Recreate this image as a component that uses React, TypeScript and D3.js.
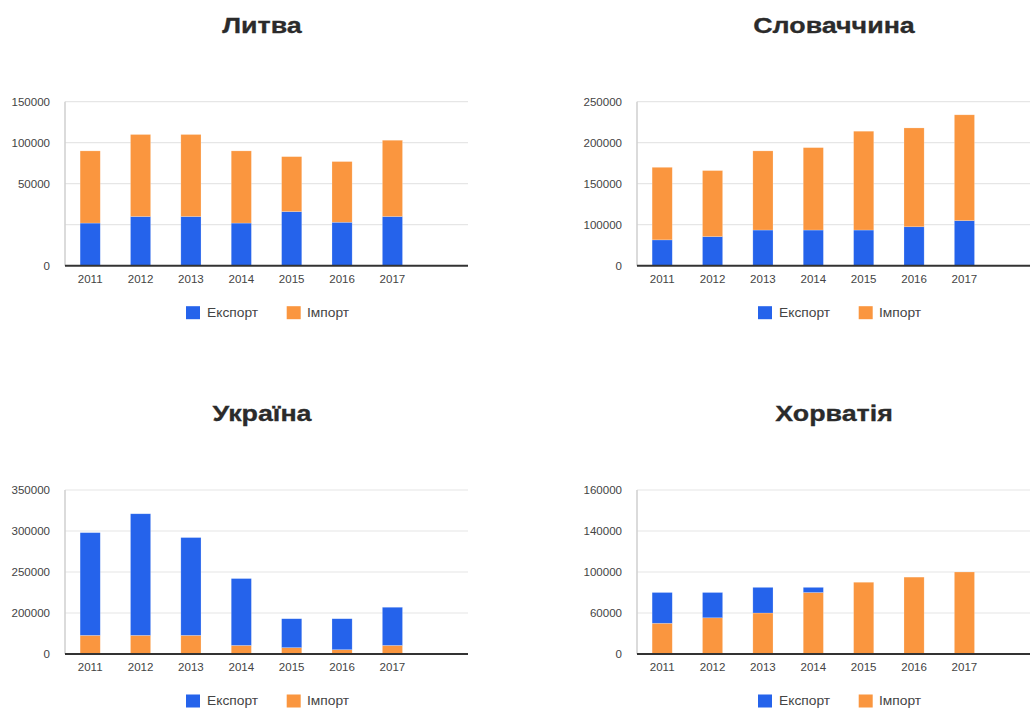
import React from "react";
import * as d3 from "d3";

const years = ["2011", "2012", "2013", "2014", "2015", "2016", "2017"];
const slots = [...years, "—"];

const lithuaniaExport = [26000, 30000, 30000, 26000, 33000, 26500, 30000];
const lithuaniaImport = [64000, 80000, 80000, 64000, 50000, 50500, 73000];
const lithuaniaTicks = [0, 25000, 50000, 100000, 150000];
const lithuaniaTickLabels = ["0", "", "50000", "100000", "150000"];

const slovakiaExport = [63000, 71000, 87000, 87000, 87000, 95000, 105000];
const slovakiaImport = [107000, 95000, 103000, 107000, 127000, 123000, 129000];
const slovakiaTicks = [0, 100000, 150000, 200000, 250000];
const slovakiaTickLabels = ["0", "100000", "150000", "200000", "250000"];

const ukraineExport = [207000, 230000, 201000, 200000, 141000, 151000, 165000];
const ukraineImport = [91000, 91000, 91000, 42000, 31000, 21000, 42000];
const ukraineTicks = [0, 200000, 250000, 300000, 350000];
const ukraineTickLabels = ["0", "200000", "250000", "300000", "350000"];

const croatiaExport = [35000, 27000, 25000, 5000, 0, 0, 0];
const croatiaImport = [45000, 53000, 60000, 80000, 90000, 95000, 100000];
const croatiaTicks = [0, 60000, 100000, 140000, 160000];
const croatiaTickLabels = ["0", "60000", "100000", "140000", "160000"];

const seriesNames = ["Експорт", "Імпорт"];
const COLORS: Record<string, string> = { export: "#2563eb", import: "#fa963f" };

const FONT = "'Liberation Sans', Arial, sans-serif";

type Panel = {
  title: string;
  exp: number[];
  imp: number[];
  ticks: number[];
  tickLabels: string[];
  order: ("export" | "import")[];
  left: number;
  top: number;
};

const panels: Panel[] = [
  { title: "Литва", exp: lithuaniaExport, imp: lithuaniaImport, ticks: lithuaniaTicks, tickLabels: lithuaniaTickLabels, order: ["export", "import"], left: 65, top: 101.7 },
  { title: "Словаччина", exp: slovakiaExport, imp: slovakiaImport, ticks: slovakiaTicks, tickLabels: slovakiaTickLabels, order: ["export", "import"], left: 637, top: 101.7 },
  { title: "Україна", exp: ukraineExport, imp: ukraineImport, ticks: ukraineTicks, tickLabels: ukraineTickLabels, order: ["import", "export"], left: 65, top: 490 },
  { title: "Хорватія", exp: croatiaExport, imp: croatiaImport, ticks: croatiaTicks, tickLabels: croatiaTickLabels, order: ["import", "export"], left: 637, top: 490 },
];

const PLOT_W = 403;
const PLOT_H = 164;

function PanelChart({ p }: { p: Panel }) {
  const x = d3.scaleBand<string>().domain(slots).range([p.left, p.left + PLOT_W]).paddingInner(0.6).paddingOuter(0.3);
  const bottom = p.top + PLOT_H;
  const gridYs = p.ticks.map((_, i) => bottom - (i * PLOT_H) / (p.ticks.length - 1));
  const y = d3.scaleLinear().domain(p.ticks).range(gridYs);
  const rows = years.map((yr, i) => ({ year: yr, export: p.exp[i], import: p.imp[i] }));
  const stacked = d3.stack<any>().keys(p.order)(rows);
  const lx = p.left + 121;
  const ly = bottom + 47;

  return (
    <g>
      <g transform={`translate(${p.left + 197},${p.top - 69}) scale(1.22,1)`}>
        <text x={0} y={0} textAnchor="middle" fontFamily={FONT} fontWeight="bold" fontSize={22} fill="#2b2b2b" stroke="#2b2b2b" strokeWidth={0.3}>
          {p.title}
        </text>
      </g>
      {p.ticks.map((t, i) => (
        <g key={"g" + i}>
          {i > 0 && <line x1={p.left} x2={p.left + PLOT_W} y1={y(t)} y2={y(t)} stroke="#e6e6e6" strokeWidth={1.2} />}
          <g transform={`translate(${p.left - 15},${y(t)}) scale(1.05,1)`}>
            <text x={0} y={0} dy="0.35em" textAnchor="end" fontFamily={FONT} fontSize={11} fill="#444">
              {p.tickLabels[i]}
            </text>
          </g>
        </g>
      ))}
      <line x1={p.left} x2={p.left} y1={p.top} y2={bottom} stroke="#cfcfcf" strokeWidth={1.5} />
      {stacked.map((s) => (
        <g key={s.key} fill={COLORS[s.key]}>
          {s.map((d, i) => {
            const h = y(d[0]) - y(d[1]);
            if (h <= 0) return null;
            return <rect key={i} x={x(years[i])!} width={x.bandwidth()} y={y(d[1])} height={h} stroke="#ffffff" strokeOpacity={0.35} strokeWidth={0.6} />;
          })}
        </g>
      ))}
      <line x1={p.left} x2={p.left + PLOT_W} y1={bottom} y2={bottom} stroke="#333" strokeWidth={2} />
      {years.map((yr) => (
        <g key={yr} transform={`translate(${x(yr)! + x.bandwidth() / 2},${bottom + 13.5}) scale(1.05,1)`}>
          <text x={0} y={0} dy="0.35em" textAnchor="middle" fontFamily={FONT} fontSize={11} fill="#444">
            {yr}
          </text>
        </g>
      ))}
      <rect x={lx} y={ly - 6.5} width={14} height={13} fill={COLORS.export} />
      <g transform={`translate(${lx + 21},${ly}) scale(1.15,1)`}>
        <text x={0} y={0} dy="0.35em" fontFamily={FONT} fontSize={12} fill="#444">{seriesNames[0]}</text>
      </g>
      <rect x={lx + 100.7} y={ly - 6.5} width={14} height={13} fill={COLORS.import} />
      <g transform={`translate(${lx + 121},${ly}) scale(1.15,1)`}>
        <text x={0} y={0} dy="0.35em" fontFamily={FONT} fontSize={12} fill="#444">{seriesNames[1]}</text>
      </g>
    </g>
  );
}

export default function App() {
  return (
    <svg width={1030} height={709} style={{ position: "absolute", left: 0, top: 0, background: "#fff" }}>
      <rect width={1030} height={709} fill="#fff" />
      {panels.map((p) => (
        <PanelChart key={p.title} p={p} />
      ))}
    </svg>
  );
}
